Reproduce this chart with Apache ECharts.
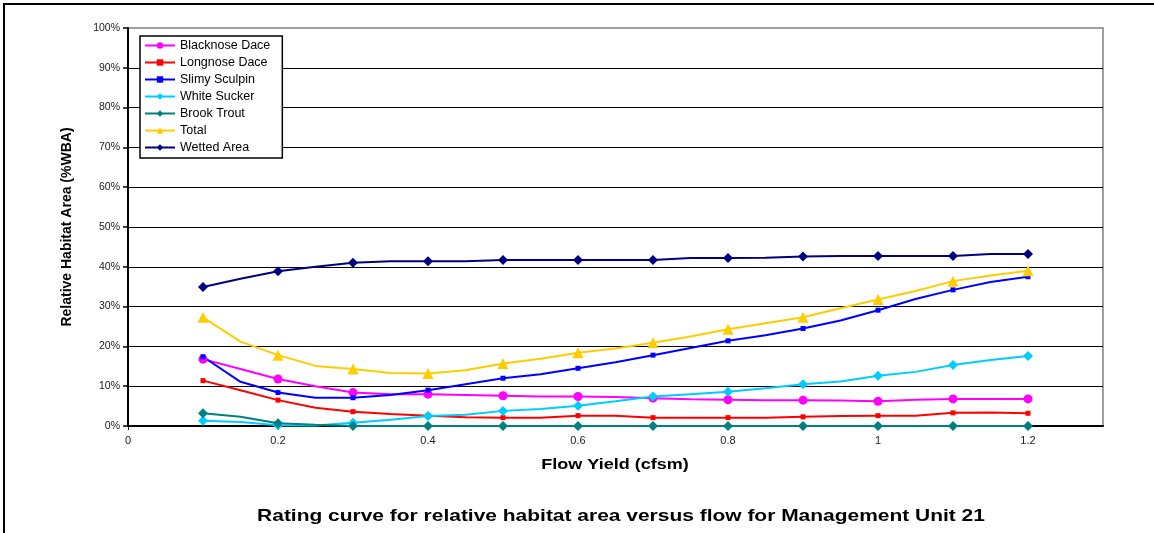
<!DOCTYPE html>
<html>
<head>
<meta charset="utf-8">
<script src="https://cdn.jsdelivr.net/npm/echarts@6/dist/echarts.min.js"></script>
<style>
  html, body { margin: 0; padding: 0; background: #fff; }
  #chart { width: 1154px; height: 533px; }
</style>
</head>
<body>
<div id="chart"></div>
<script>
// flow yield (cfsm), every 0.05 from 0.1 to 1.2; markers sit on the 0.1 steps
var flowYield = [0.10, 0.15, 0.20, 0.25, 0.30, 0.35, 0.40, 0.45, 0.50, 0.55, 0.60, 0.65,
                 0.70, 0.75, 0.80, 0.85, 0.90, 0.95, 1.00, 1.05, 1.10, 1.15, 1.20];

// relative habitat area, %WBA
var blacknoseDace = [16.8, 14.3, 11.8, 10.0, 8.4, 8.0, 8.0, 7.8, 7.6, 7.4, 7.4, 7.3,
                     7.0, 6.7, 6.6, 6.5, 6.5, 6.4, 6.2, 6.6, 6.8, 6.8, 6.8];
var longnoseDace = [11.4, 9.0, 6.5, 4.6, 3.6, 3.0, 2.6, 2.2, 2.1, 2.1, 2.6, 2.6,
                    2.1, 2.1, 2.1, 2.1, 2.3, 2.5, 2.6, 2.6, 3.3, 3.4, 3.2];
var slimySculpin = [17.4, 11.1, 8.4, 7.1, 7.1, 7.8, 9.0, 10.5, 12.0, 13.0, 14.5, 16.0,
                    17.8, 19.6, 21.4, 22.8, 24.5, 26.5, 29.1, 31.9, 34.2, 36.2, 37.5];
var whiteSucker = [1.3, 1.0, 0.2, 0.1, 0.8, 1.6, 2.5, 2.8, 3.8, 4.3, 5.1, 6.2,
                   7.4, 8.0, 8.6, 9.5, 10.5, 11.2, 12.6, 13.6, 15.3, 16.6, 17.6];
var brookTrout = [3.2, 2.3, 0.7, 0.3, 0, 0, 0, 0, 0, 0, 0, 0,
                  0, 0, 0, 0, 0, 0, 0, 0, 0, 0, 0];
var total = [27.3, 21.2, 17.8, 15.1, 14.3, 13.3, 13.2, 14.0, 15.7, 16.9, 18.4, 19.5,
             20.9, 22.5, 24.3, 25.8, 27.3, 29.6, 31.8, 33.9, 36.4, 37.8, 39.0];
var wettedArea = [34.9, 37.0, 38.9, 40.0, 41.0, 41.4, 41.4, 41.4, 41.7, 41.7, 41.7, 41.7,
                  41.7, 42.2, 42.2, 42.3, 42.6, 42.7, 42.7, 42.7, 42.7, 43.2, 43.2];

var yTicks = ['0%', '10%', '20%', '30%', '40%', '50%', '60%', '70%', '80%', '90%', '100%'];

var seriesDefs = [
  { name: 'Blacknose Dace', data: blacknoseDace, color: '#FF00FF', symbol: 'circle', size: 9 },
  { name: 'Longnose Dace', data: longnoseDace, color: '#FF0000', symbol: 'rect', size: 5 },
  { name: 'Slimy Sculpin', data: slimySculpin, color: '#0000FF', symbol: 'rect', size: 5 },
  { name: 'White Sucker', data: whiteSucker, color: '#00CCFF', symbol: 'diamond', size: 10 },
  { name: 'Brook Trout', data: brookTrout, color: '#008080', symbol: 'diamond', size: 10 },
  { name: 'Total', data: total, color: '#FFCC00', symbol: 'triangle', size: 11 },
  { name: 'Wetted Area', data: wettedArea, color: '#000080', symbol: 'diamond', size: 10 }
];

function buildPoints(values, symbol) {
  return values.map(function (v, i) {
    var x = flowYield[i];
    var onStep = Math.abs(Math.round(x * 10) - x * 10) < 1e-6;
    return { value: [x, v], symbol: onStep ? symbol : 'none' };
  });
}

var font = 'Liberation Sans, Arial, sans-serif';
var chart = echarts.init(document.getElementById('chart'));

chart.setOption({
  animation: false,
  backgroundColor: '#fff',
  textStyle: { fontFamily: font },
  graphic: [{
    // outer frame, cropped on the right and bottom as in the source
    type: 'rect',
    shape: { x: 4, y: 4, width: 1300, height: 700 },
    style: { fill: 'none', stroke: '#000', lineWidth: 2 },
    silent: true
  }, {
    // x axis title (source text is stretched wide)
    type: 'text',
    x: 615,
    y: 465,
    scaleX: 1.2,
    style: {
      text: 'Flow Yield (cfsm)',
      font: 'bold 15px ' + font,
      fill: '#000',
      textAlign: 'center',
      textVerticalAlign: 'middle'
    }
  }, {
    // caption under the chart
    type: 'text',
    x: 621,
    y: 516,
    scaleX: 1.27,
    style: {
      text: 'Rating curve for relative habitat area versus flow for Management Unit 21',
      font: 'bold 16.5px ' + font,
      fill: '#000',
      textAlign: 'center',
      textVerticalAlign: 'middle'
    }
  }],
  legend: {
    orient: 'vertical',
    left: 140,
    top: 36,
    padding: [3, 12, 4, 4],
    itemGap: 4,
    itemWidth: 30,
    itemHeight: 8,
    borderColor: '#000',
    borderWidth: 1.5,
    backgroundColor: '#fff',
    textStyle: { fontFamily: font, fontSize: 12.5, color: '#000', lineHeight: 13 },
    data: seriesDefs.map(function (s) { return s.name; })
  },
  grid: {
    left: 128,
    right: 51,
    top: 28,
    bottom: 107,
    show: true,
    borderColor: '#808080',
    borderWidth: 1.5,
    backgroundColor: '#fff'
  },
  xAxis: {
    type: 'value',
    min: 0,
    max: 1.3,
    interval: 0.2,
    axisLine: { lineStyle: { color: '#000', width: 2 } },
    axisTick: { show: true, length: 4, lineStyle: { color: '#000' } },
    axisLabel: { showMaxLabel: false, fontSize: 11, color: '#222', margin: 9,
      formatter: function (v) { return String(Math.round(v * 10) / 10); } },
    splitLine: { show: false }
  },
  yAxis: {
    type: 'value',
    min: 0,
    max: 100,
    interval: 10,
    name: 'Relative Habitat Area (%WBA)',
    nameLocation: 'middle',
    nameGap: 54,
    nameTextStyle: { fontFamily: font, fontSize: 14, fontWeight: 'bold', color: '#000' },
    axisLine: { lineStyle: { color: '#000', width: 2 } },
    axisTick: { show: true, length: 5, lineStyle: { color: '#000', width: 1.5 } },
    axisLabel: { fontSize: 10.5, color: '#222', margin: 8,
      formatter: function (v) { return yTicks[Math.round(v / 10)]; } },
    splitLine: { show: true, showMaxLine: false, lineStyle: { color: '#000', width: 1.2 } }
  },
  series: seriesDefs.map(function (s) {
    return {
      name: s.name,
      type: 'line',
      data: buildPoints(s.data, s.symbol),
      symbol: s.symbol,
      symbolSize: s.size,
      showAllSymbol: true,
      color: s.color,
      lineStyle: { color: s.color, width: 2 },
      itemStyle: { color: s.color }
    };
  })
});
</script>
</body>
</html>
